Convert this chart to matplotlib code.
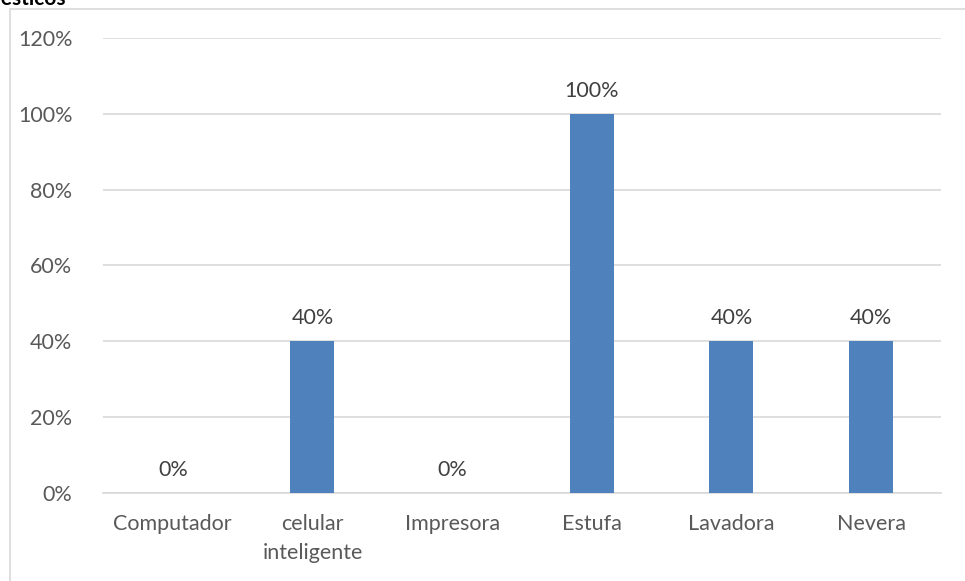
import matplotlib
matplotlib.use('Agg')
import matplotlib.pyplot as plt
from matplotlib.patches import Rectangle
from matplotlib.ticker import PercentFormatter

categories = ['Computador', 'celular\ninteligente', 'Impresora', 'Estufa', 'Lavadora', 'Nevera']
values = [0.0, 0.40, 0.0, 1.00, 0.40, 0.40]
labels = ['0%', '40%', '0%', '100%', '40%', '40%']

plt.rcParams['font.family'] = ['Lato', 'DejaVu Sans']

fig = plt.figure(figsize=(9.65, 5.81), dpi=100, facecolor='white')
ax = fig.add_axes([0.1067, 0.1515, 0.8683, 0.7831])

# outer chart frame, cut off at right and bottom like the source
fig.patches.append(Rectangle((10 / 965, -0.1), 1.2, 1 - 9 / 581 + 0.1,
                             transform=fig.transFigure, fill=False,
                             edgecolor='#d9d9d9', linewidth=1.2))
# title, mostly cut off at the top edge like the source
fig.text(66 / 965, 1 - 5 / 581, 'Electrodomésticos', ha='right', va='baseline',
         fontsize=15, fontweight='bold', color='black')

x = range(len(categories))
ax.bar(x, values, width=0.315, color='#4f81bd', zorder=3)
for i, v in enumerate(values):
    ax.text(i, v + 0.035, labels[i], ha='center', va='bottom', fontsize=15.5, color='#404040')

ax.set_ylim(0, 1.2)
ax.set_xlim(-0.5, len(categories) - 0.5)
ax.set_yticks([0, 0.2, 0.4, 0.6, 0.8, 1.0, 1.2])
ax.yaxis.set_major_formatter(PercentFormatter(1.0, decimals=0))
ax.set_xticks(list(x))
ax.set_xticklabels(categories, linespacing=1.55)
ax.grid(axis='y', color='#d9d9d9', linewidth=1.2, zorder=0)
for s in ['top', 'right', 'left']:
    ax.spines[s].set_visible(False)
ax.spines['bottom'].set_color('#d9d9d9')
ax.spines['bottom'].set_linewidth(1.2)
ax.tick_params(axis='both', length=0, labelsize=15.5, colors='#595959')
ax.tick_params(axis='y', pad=22)
ax.tick_params(axis='x', pad=15)

fig.savefig('out.png', dpi=100)
